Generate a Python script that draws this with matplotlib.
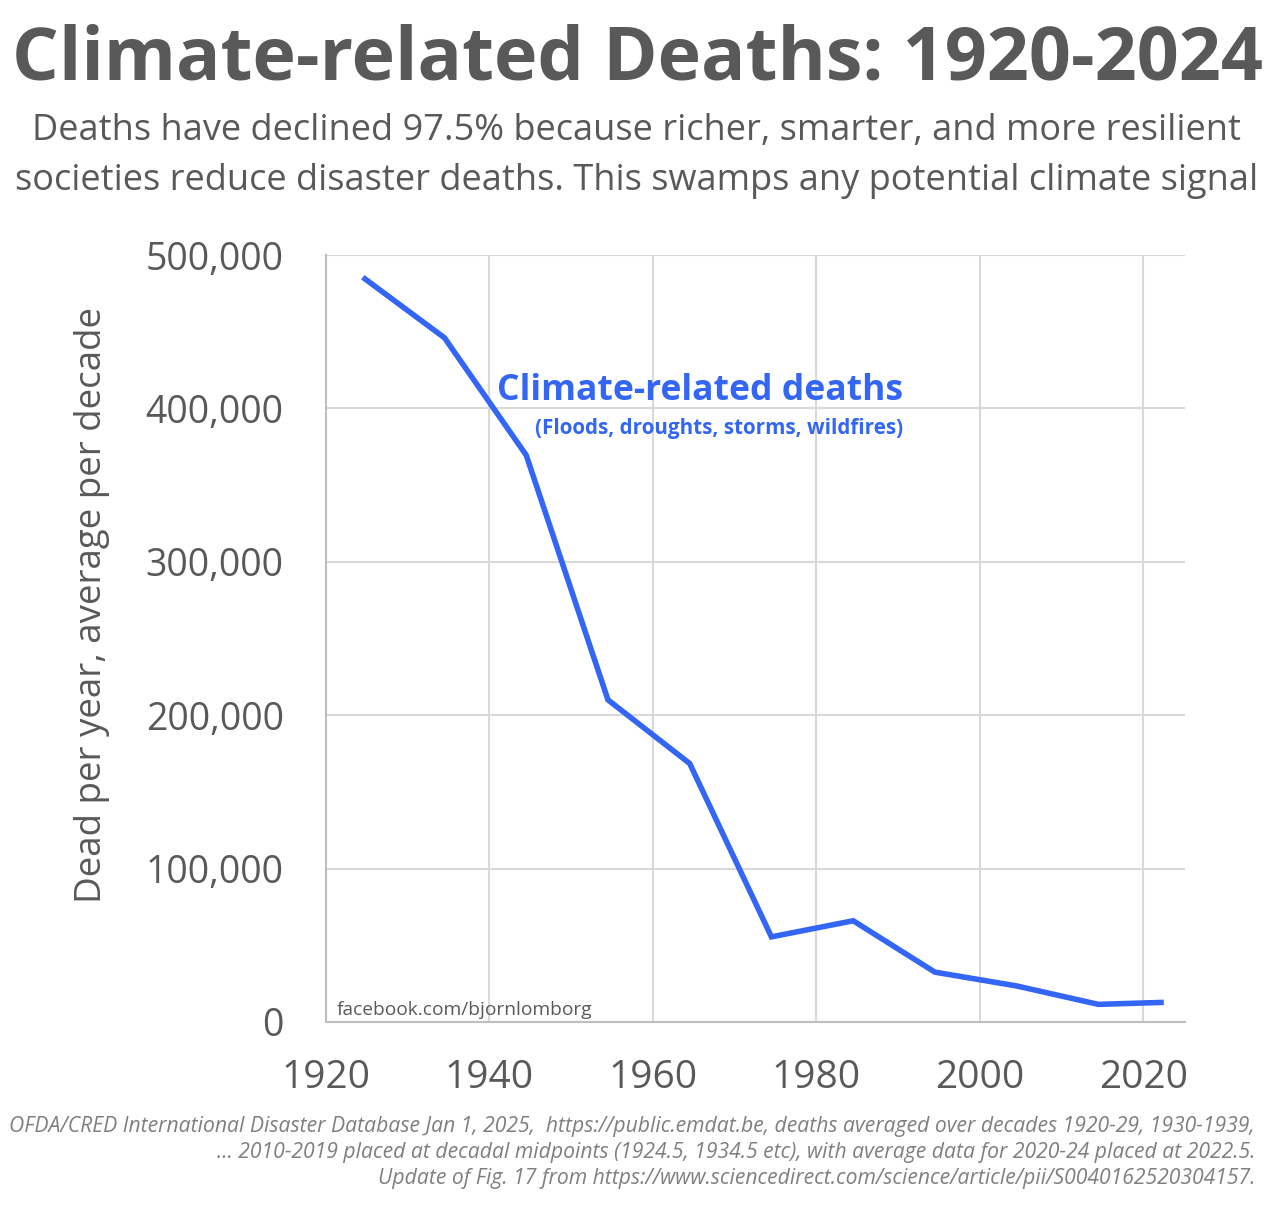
import matplotlib
matplotlib.use("Agg")
import matplotlib.pyplot as plt
from matplotlib.ticker import FuncFormatter

years = [1924.5, 1934.5, 1944.5, 1954.5, 1964.5, 1974.5, 1984.5, 1994.5, 2004.5, 2014.5, 2022.5]
deaths = [485500, 446000, 369500, 210000, 168500, 55500, 66000, 32500, 23500, 11500, 12800]
x_ticks = [1920, 1940, 1960, 1980, 2000, 2020]
y_ticks = [0, 100000, 200000, 300000, 400000, 500000]

title = "Climate-related Deaths: 1920-2024"
subtitle_lines = ["Deaths have declined 97.5% because richer, smarter, and more resilient",
                  "societies reduce disaster deaths. This swamps any potential climate signal"]
ylabel = "Dead per year, average per decade"
series_label = "Climate-related deaths"
series_sub = "(Floods, droughts, storms, wildfires)"
credit = "facebook.com/bjornlomborg"
footnote_lines = [
    "OFDA/CRED International Disaster Database Jan 1, 2025,  https://public.emdat.be, deaths averaged over decades 1920-29, 1930-1939,",
    "... 2010-2019 placed at decadal midpoints (1924.5, 1934.5 etc), with average data for 2020-24 placed at 2022.5.",
    "Update of Fig. 17 from https://www.sciencedirect.com/science/article/pii/S0040162520304157.",
]

GRAY = "#595959"
BLUE = "#3366F5"
FONT = ["Open Sans", "DejaVu Sans"]
plt.rcParams['font.family'] = FONT

W, H = 1274, 1210
fig = plt.figure(figsize=(W / 100, H / 100), dpi=100)
ax = fig.add_axes([326 / W, 1 - 1022 / H, (1185 - 326) / W, (1022 - 255) / H])

ax.plot(years, deaths, color=BLUE, lw=4, solid_joinstyle='miter', solid_capstyle='butt', zorder=3)
ax.set_xlim(1920, 2025.1)
ax.set_ylim(0, 500000)
ax.set_xticks(x_ticks)
ax.set_yticks(y_ticks)
ax.yaxis.set_major_formatter(FuncFormatter(lambda v, p: f"{int(v):,}"))
ax.grid(True, color="#d9d9d9", lw=1.5, zorder=0)
for s in ["top", "right"]:
    ax.spines[s].set_visible(False)
for s in ["left", "bottom"]:
    ax.spines[s].set_color("#bfbfbf")
    ax.spines[s].set_linewidth(1.5)
ax.tick_params(axis='both', length=0, labelcolor=GRAY)
ax.tick_params(axis='x', labelsize=28, pad=27)
ax.tick_params(axis='y', labelsize=27, pad=30.5)

fig.text(92 / W, 1 - 605 / H, ylabel, rotation=90, ha='center', va='center', fontsize=26.5, color=GRAY)

ax.text(1990.6, 405500, series_label, transform=ax.transData, ha='right', va='baseline',
        fontsize=25.6, fontweight='bold', color=BLUE)
ax.text(1990.6, 383300, series_sub, transform=ax.transData, ha='right', va='baseline',
        fontsize=14.9, fontweight='bold', color=BLUE)
ax.text(11 / 859, 7 / 767, credit, transform=ax.transAxes, ha='left', va='baseline',
        fontsize=13.8, color=GRAY)

fig.text(0.5, 1 - 80 / H, title, ha='center', va='baseline', fontsize=53, fontweight='bold', color=GRAY)
for i, line in enumerate(subtitle_lines):
    fig.text(0.5, 1 - (140 + 50 * i) / H, line, ha='center', va='baseline', fontsize=26, color=GRAY)
for i, line in enumerate(footnote_lines):
    fig.text(1255 / W, 1 - (1132 + 26 * i) / H, line, ha='right', va='baseline', fontsize=15.2,
             style='italic', color="#7f7f7f")

fig.savefig("out.png", dpi=100, facecolor="white")
